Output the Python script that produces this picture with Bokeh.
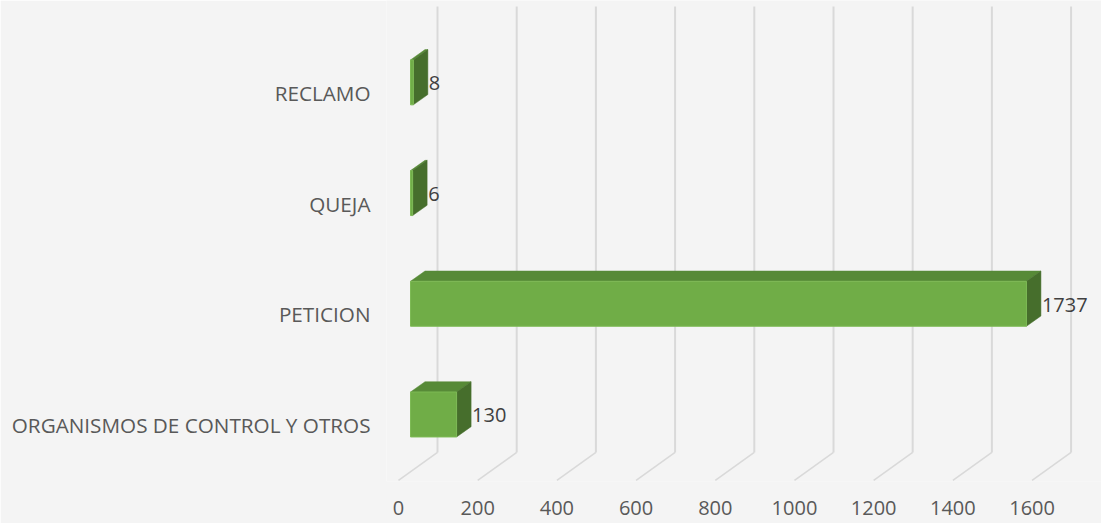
from bokeh.plotting import figure
from bokeh.models import Range1d, LinearAxis, FixedTicker, ColumnDataSource
from bokeh.core.properties import value
from bokeh.embed import file_html
from bokeh.resources import INLINE

# ---- data ----
categories = ["ORGANISMOS DE CONTROL Y OTROS", "PETICION", "QUEJA", "RECLAMO"]
counts = [130, 1737, 6, 8]
axis_ticks = [0, 200, 400, 600, 800, 1000, 1200, 1400, 1600]

# ---- styling / 3D geometry (pseudo-perspective as in the original) ----
FONT = "Open Sans"
FRONT = "#70AD47"
TOP = "#578A37"
SIDE = "#466E2C"
GRID = "#D9D9D9"
BG = "#F4F4F4"

DEPTH_X = 40.9      # bar depth along value axis (value units)
DEPTH_Y = 0.093     # bar depth along category axis (category units)
BAR_SHIFT = 0.095   # front face centre relative to category centre
BAR_H = 0.406       # front face height
GRID_DEPTH = 98.5   # floor depth in axis units
FLOOR_BACK = -0.248
FLOOR_FRONT = -0.501
WALL_TOP = 3.78
Y_START, Y_END = -0.5104, 3.8347

p = figure(width=1101, height=523, output_backend="svg", toolbar_location=None,
           x_range=Range1d(-67.7, 1948.7), y_range=Range1d(Y_START, Y_END),
           x_axis_location=None, min_border_left=386, min_border_right=0,
           min_border_top=0, min_border_bottom=42,
           background_fill_color=BG, border_fill_color=BG, outline_line_color=None)
p.extra_x_ranges = {"grid": Range1d(-30.3, 1775.3)}
p.xgrid.visible = False
p.ygrid.visible = False

# ---- 3D gridlines: back wall verticals + floor diagonals ----
p.segment(x0=[t + GRID_DEPTH for t in axis_ticks], y0=[FLOOR_BACK] * len(axis_ticks),
          x1=[t + GRID_DEPTH for t in axis_ticks], y1=[WALL_TOP] * len(axis_ticks),
          x_range_name="grid", line_color=GRID, line_width=2)
p.segment(x0=axis_ticks, y0=[FLOOR_FRONT] * len(axis_ticks),
          x1=[t + GRID_DEPTH for t in axis_ticks], y1=[FLOOR_BACK] * len(axis_ticks),
          x_range_name="grid", line_color=GRID, line_width=1.6)

# ---- bars ----
ypos = list(range(len(categories)))
fc = [y + BAR_SHIFT for y in ypos]
lo = [c - BAR_H / 2 for c in fc]
hi = [c + BAR_H / 2 for c in fc]

top_xs = [[0, v, v + DEPTH_X, DEPTH_X] for v in counts]
top_ys = [[h, h, h + DEPTH_Y, h + DEPTH_Y] for h in hi]
side_xs = [[v, v, v + DEPTH_X, v + DEPTH_X] for v in counts]
side_ys = [[l, h, h + DEPTH_Y, l + DEPTH_Y] for l, h in zip(lo, hi)]

p.patches(top_xs, top_ys, fill_color=TOP, line_color=TOP, line_width=0.5)
p.patches(side_xs, side_ys, fill_color=SIDE, line_color=SIDE, line_width=0.5)
p.hbar(y=fc, left=0, right=counts, height=BAR_H, fill_color=FRONT,
       line_color="#7DBA55", line_width=1)

# ---- data labels ----
src = ColumnDataSource(dict(x=[v + DEPTH_X for v in counts], y=fc,
                            t=[str(v) for v in counts]))
p.text(x="x", y="y", text="t", source=src, x_offset=1, y_offset=1,
       text_font=value(FONT), text_font_size="20px", text_color="#404040",
       text_baseline="middle", text_align="left")

# ---- axes ----
p.yaxis.ticker = FixedTicker(ticks=ypos)
p.yaxis.major_label_overrides = {y: c for y, c in zip(ypos, categories)}
p.yaxis.axis_line_color = None
p.yaxis.major_tick_line_color = None
p.yaxis.minor_tick_line_color = None
p.yaxis.major_label_standoff = 10
p.yaxis.major_label_text_font = FONT
p.yaxis.major_label_text_font_size = "20.7px"
p.yaxis.major_label_text_color = "#595959"

xa = LinearAxis(x_range_name="grid", ticker=FixedTicker(ticks=axis_ticks))
xa.axis_line_color = None
xa.major_tick_line_color = None
xa.minor_tick_line_color = None
xa.major_label_standoff = 13
xa.major_label_text_font = FONT
xa.major_label_text_font_size = "20px"
xa.major_label_text_color = "#595959"
p.add_layout(xa, "below")

open("out.html", "w").write(file_html(p, INLINE))
